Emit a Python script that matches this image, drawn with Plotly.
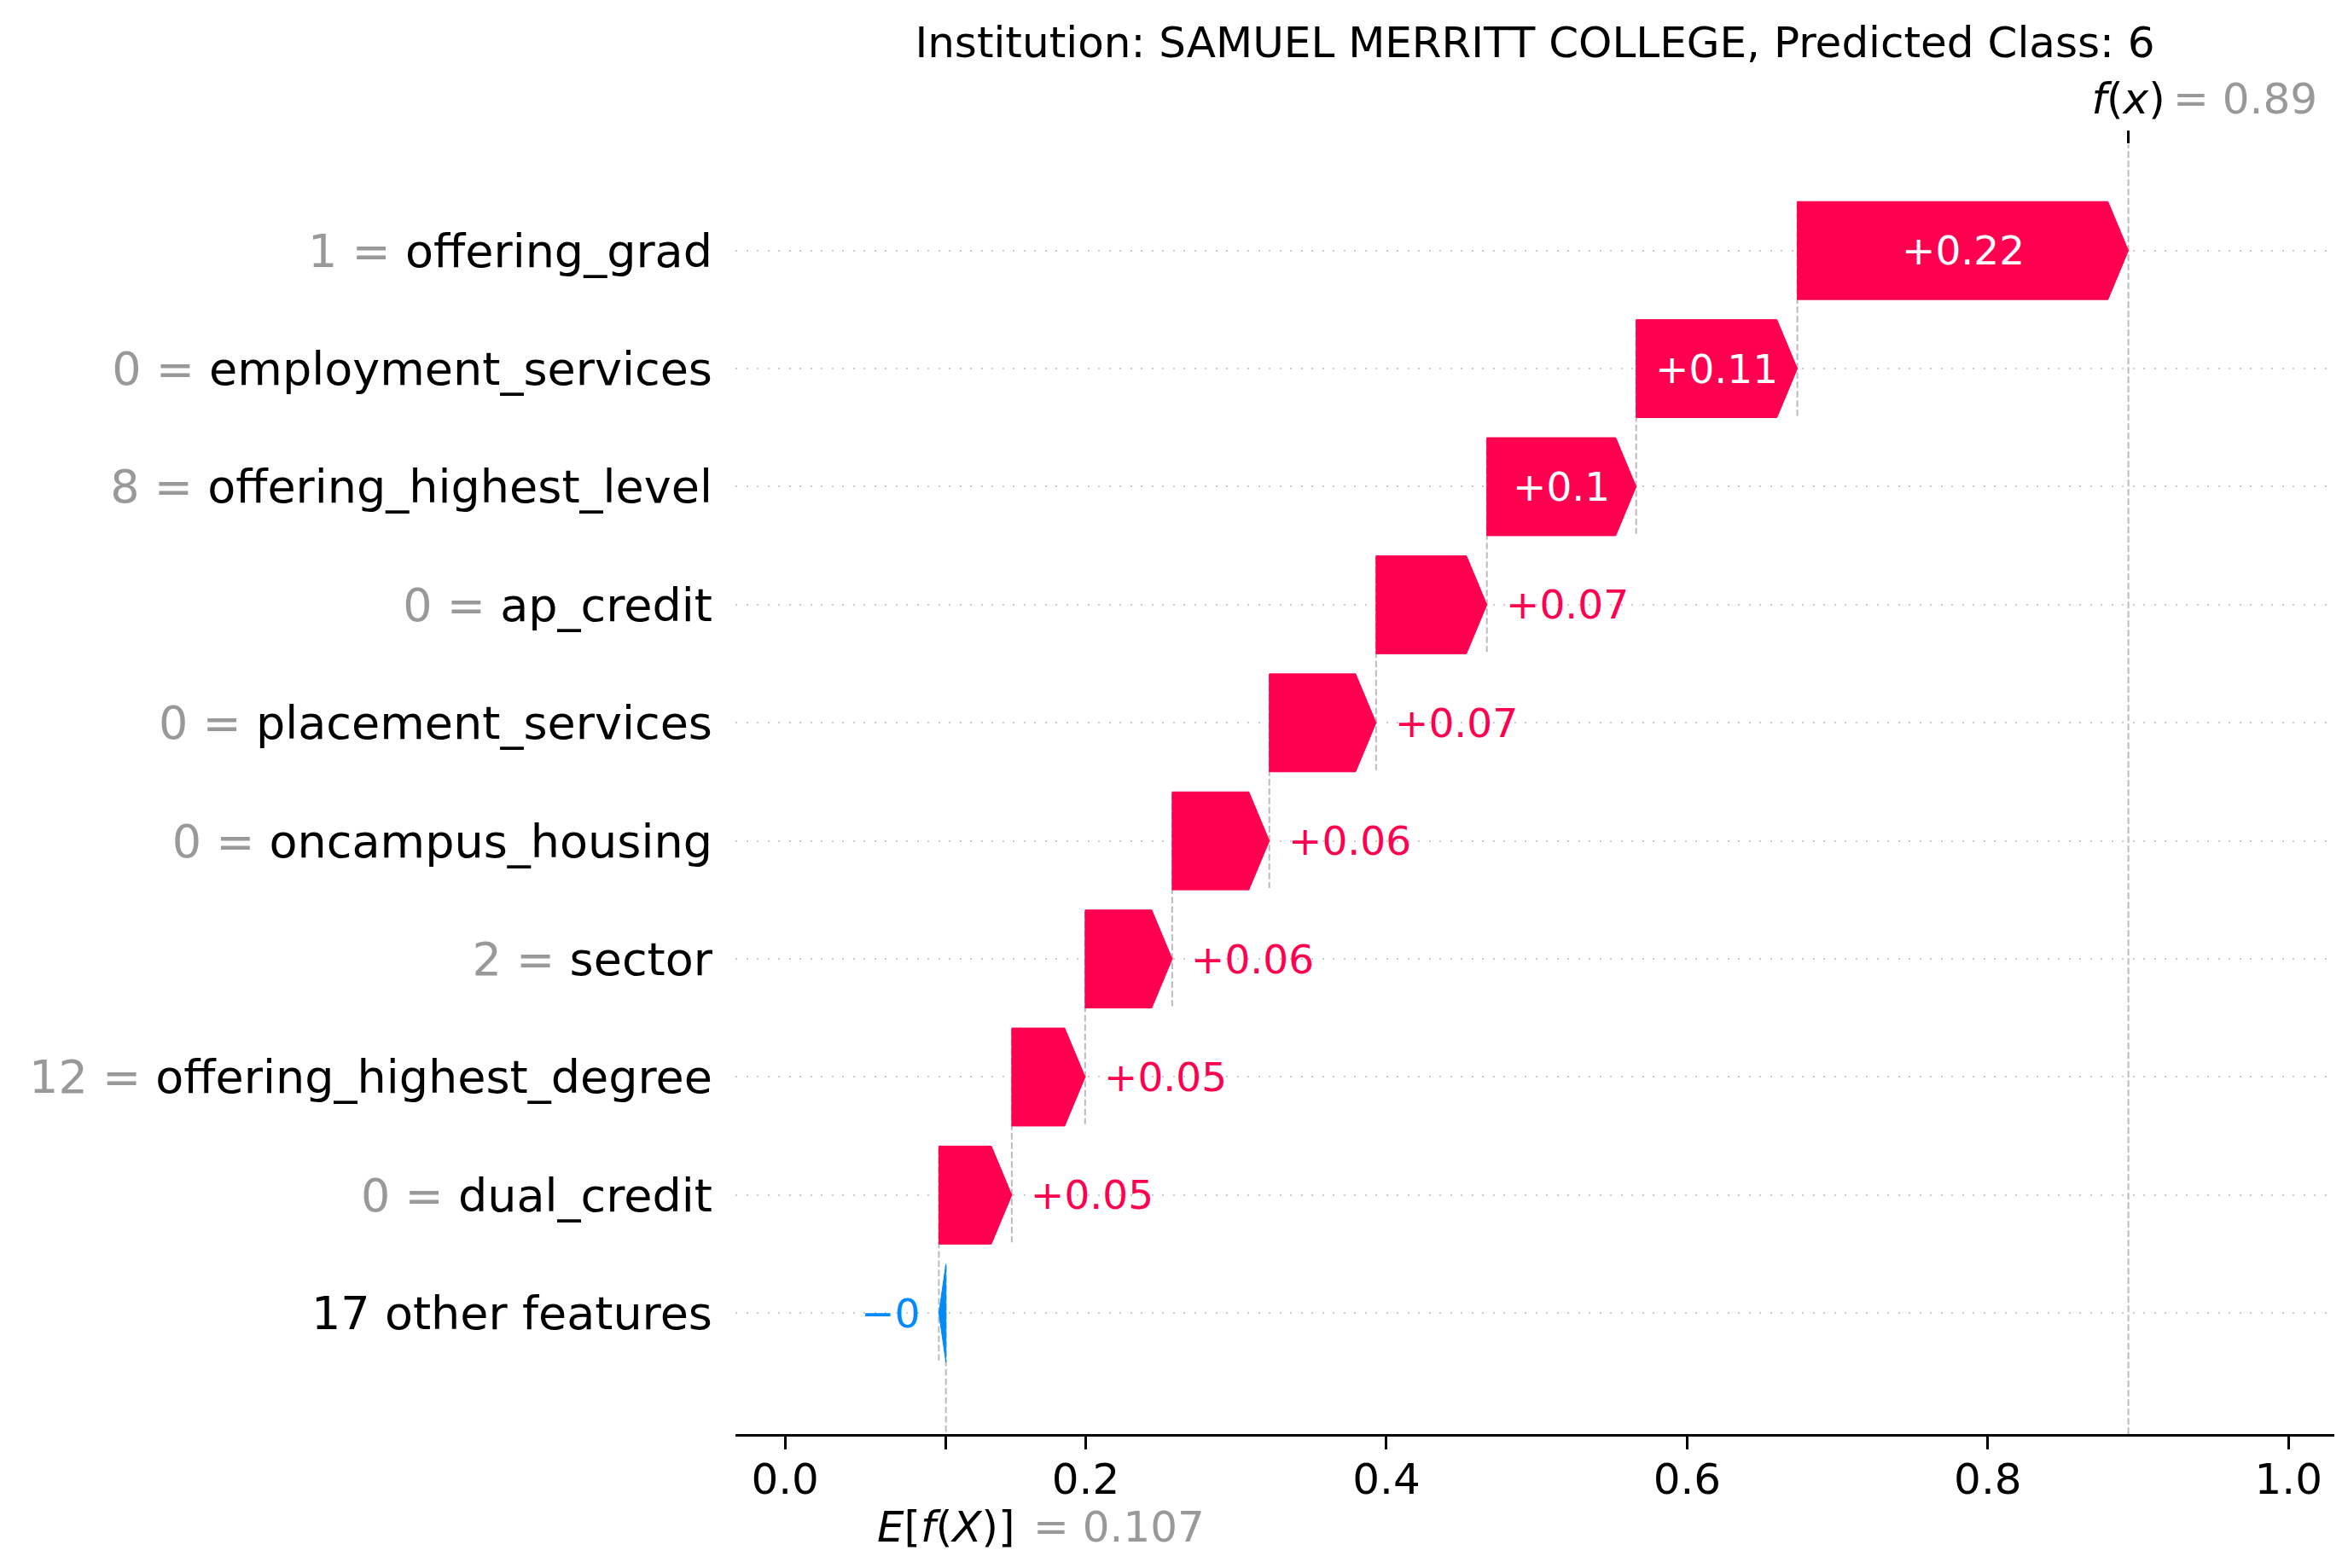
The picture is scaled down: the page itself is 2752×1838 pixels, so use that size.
import plotly.graph_objects as go

# data, listed top row first (as in the shap waterfall)
title_text = "Institution: SAMUEL MERRITT COLLEGE, Predicted Class: 6"
feature_names = ["offering_grad", "employment_services", "offering_highest_level",
                 "ap_credit", "placement_services", "oncampus_housing", "sector",
                 "offering_highest_degree", "dual_credit", "17 other features"]
feature_values = ["1", "0", "8", "0", "0", "0", "2", "12", "0", None]
shap_values = [0.2202, 0.1072, 0.0993, 0.0737, 0.0710, 0.0646, 0.0579, 0.0488, 0.0485, -0.0047]
base_value = 0.107
x_ticks = [0.0, 0.2, 0.4, 0.6, 0.8, 1.0]
x_tick_labels = ["0.0", "0.2", "0.4", "0.6", "0.8", "1.0"]

RED = "#ff0051"
BLUE = "#008bfb"
GRAY = "#999999"
FONT = "DejaVu Sans"

X_RANGE = [-0.033, 1.0305]
Y_RANGE = [-1.024, 9.901]
BAR_HALF = 0.415
HEAD = 0.0136
PX_PER_UNIT = 1762.5


def fmt(v):
    s = f"{v:+.2f}".rstrip("0").rstrip(".")
    return s.replace("-", "\u2212")


n = len(feature_names)
rows = list(range(n - 1, -1, -1))
fx = base_value + sum(shap_values)

# start of every bar, walking up from the base value
starts = [0.0] * n
loc = base_value
for i in reversed(range(n)):
    starts[i] = loc
    loc += shap_values[i]

fig = go.Figure()

# dashed connectors (drawn first so the bars sit on top)
dx, dy = [], []
for i in range(n):
    dx += [starts[i], starts[i], None]
    dy += [rows[i] + 0.4, rows[i] - 1.4, None]
dx += [fx, fx, None]
dy += [Y_RANGE[0], Y_RANGE[1], None]
fig.add_trace(go.Scatter(x=dx, y=dy, mode="lines", hoverinfo="skip", showlegend=False,
                         line=dict(color="#bbbbbb", width=2, dash="7.7px,3.3px")))

annotations = []
for i in range(n):
    s, w, y = starts[i], shap_values[i], rows[i]
    e = s + w
    hl = min(HEAD, abs(w))
    if w >= 0:
        xs = [s, s, e - hl, e, e - hl, s]
        color = RED
    else:
        xs = [s, s, e + hl, e, e + hl, s]
        color = BLUE
    ys = [y - BAR_HALF, y + BAR_HALF, y + BAR_HALF, y, y - BAR_HALF, y - BAR_HALF]
    fig.add_trace(go.Scatter(x=xs, y=ys, mode="lines", fill="toself", fillcolor=color,
                             line=dict(color=color, width=1), hoverinfo="skip",
                             showlegend=False))

    label = fmt(w)
    text_w = len(label) * 0.62 * 47
    if abs(w) * PX_PER_UNIT > text_w + 10:
        annotations.append(dict(x=s + w / 2, y=y, text=label, showarrow=False,
                                xanchor="center", yanchor="middle",
                                font=dict(color="white", size=47, family=FONT)))
    elif w >= 0:
        annotations.append(dict(x=e, y=y, text=label, showarrow=False, xshift=20,
                                xanchor="left", yanchor="middle",
                                font=dict(color=RED, size=47, family=FONT)))
    else:
        annotations.append(dict(x=e, y=y, text=label, showarrow=False, xshift=-20,
                                xanchor="right", yanchor="middle",
                                font=dict(color=BLUE, size=47, family=FONT)))

y_labels = []
for name, val in zip(feature_names, feature_values):
    if val is None:
        y_labels.append(name)
    else:
        y_labels.append(f'<span style="color:{GRAY}">{val} = </span>{name}')

# f(x) and E[f(X)] values
annotations.append(dict(x=fx, y=1, xref="x", yref="paper", text=f"= {fx:.2f}",
                        showarrow=False, xanchor="left", yanchor="middle",
                        xshift=50, yshift=53,
                        font=dict(color=GRAY, size=50, family=FONT)))
annotations.append(dict(x=base_value, y=0, xref="x", yref="paper",
                        text="<i>E</i>[<i>f</i>(<i>X</i>)]",
                        showarrow=False, xanchor="center", yanchor="middle", yshift=-109,
                        font=dict(color="black", size=50, family=FONT)))
annotations.append(dict(x=base_value, y=0, xref="x", yref="paper", text=f"= {base_value:.3f}",
                        showarrow=False, xanchor="left", yanchor="middle",
                        xshift=100, yshift=-109,
                        font=dict(color=GRAY, size=50, family=FONT)))

# invisible trace to carry the top axis
fig.add_trace(go.Scatter(x=[fx], y=[Y_RANGE[1]], xaxis="x2", mode="markers",
                         marker=dict(opacity=0), hoverinfo="skip", showlegend=False))

fig.update_layout(
    width=2752, height=1838,
    margin=dict(l=862, r=16, t=169, b=157),
    plot_bgcolor="white", paper_bgcolor="white",
    font=dict(family=FONT, color="black"),
    title=dict(text=title_text, x=0.5, xref="paper", y=1 - 49 / 1838, yref="container",
               xanchor="center", yanchor="middle", font=dict(size=50, family=FONT)),
    xaxis=dict(range=X_RANGE, showgrid=False, zeroline=False, showline=True,
               linecolor="black", linewidth=3.3, ticks="outside", ticklen=15,
               tickwidth=3.3, tickcolor="black", ticklabelstandoff=-8,
               tickvals=x_ticks + [base_value], ticktext=x_tick_labels + [""],
               tickfont=dict(size=50, color="black")),
    xaxis2=dict(range=X_RANGE, overlaying="x", side="top", showgrid=False,
                zeroline=False, showline=False, ticks="outside", ticklen=15,
                tickwidth=3.3, tickcolor="black", tickvals=[fx],
                ticktext=["<i>f</i>(<i>x</i>)"], tickfont=dict(size=50, color="black")),
    yaxis=dict(range=Y_RANGE, tickvals=rows, ticktext=y_labels, showgrid=True,
               gridcolor="#cccccc", gridwidth=2, griddash="2px,10.5px",
               zeroline=False, showline=False, ticks="", ticklabelstandoff=26,
               tickfont=dict(size=54, color="black")),
    annotations=annotations,
    showlegend=False,
)

# drop the browser's default body margin so the figure starts at the window corner
fig.write_html("out.html", config={"displayModeBar": False},
               post_script="document.body.style.margin='0';document.body.style.overflow='hidden';")
